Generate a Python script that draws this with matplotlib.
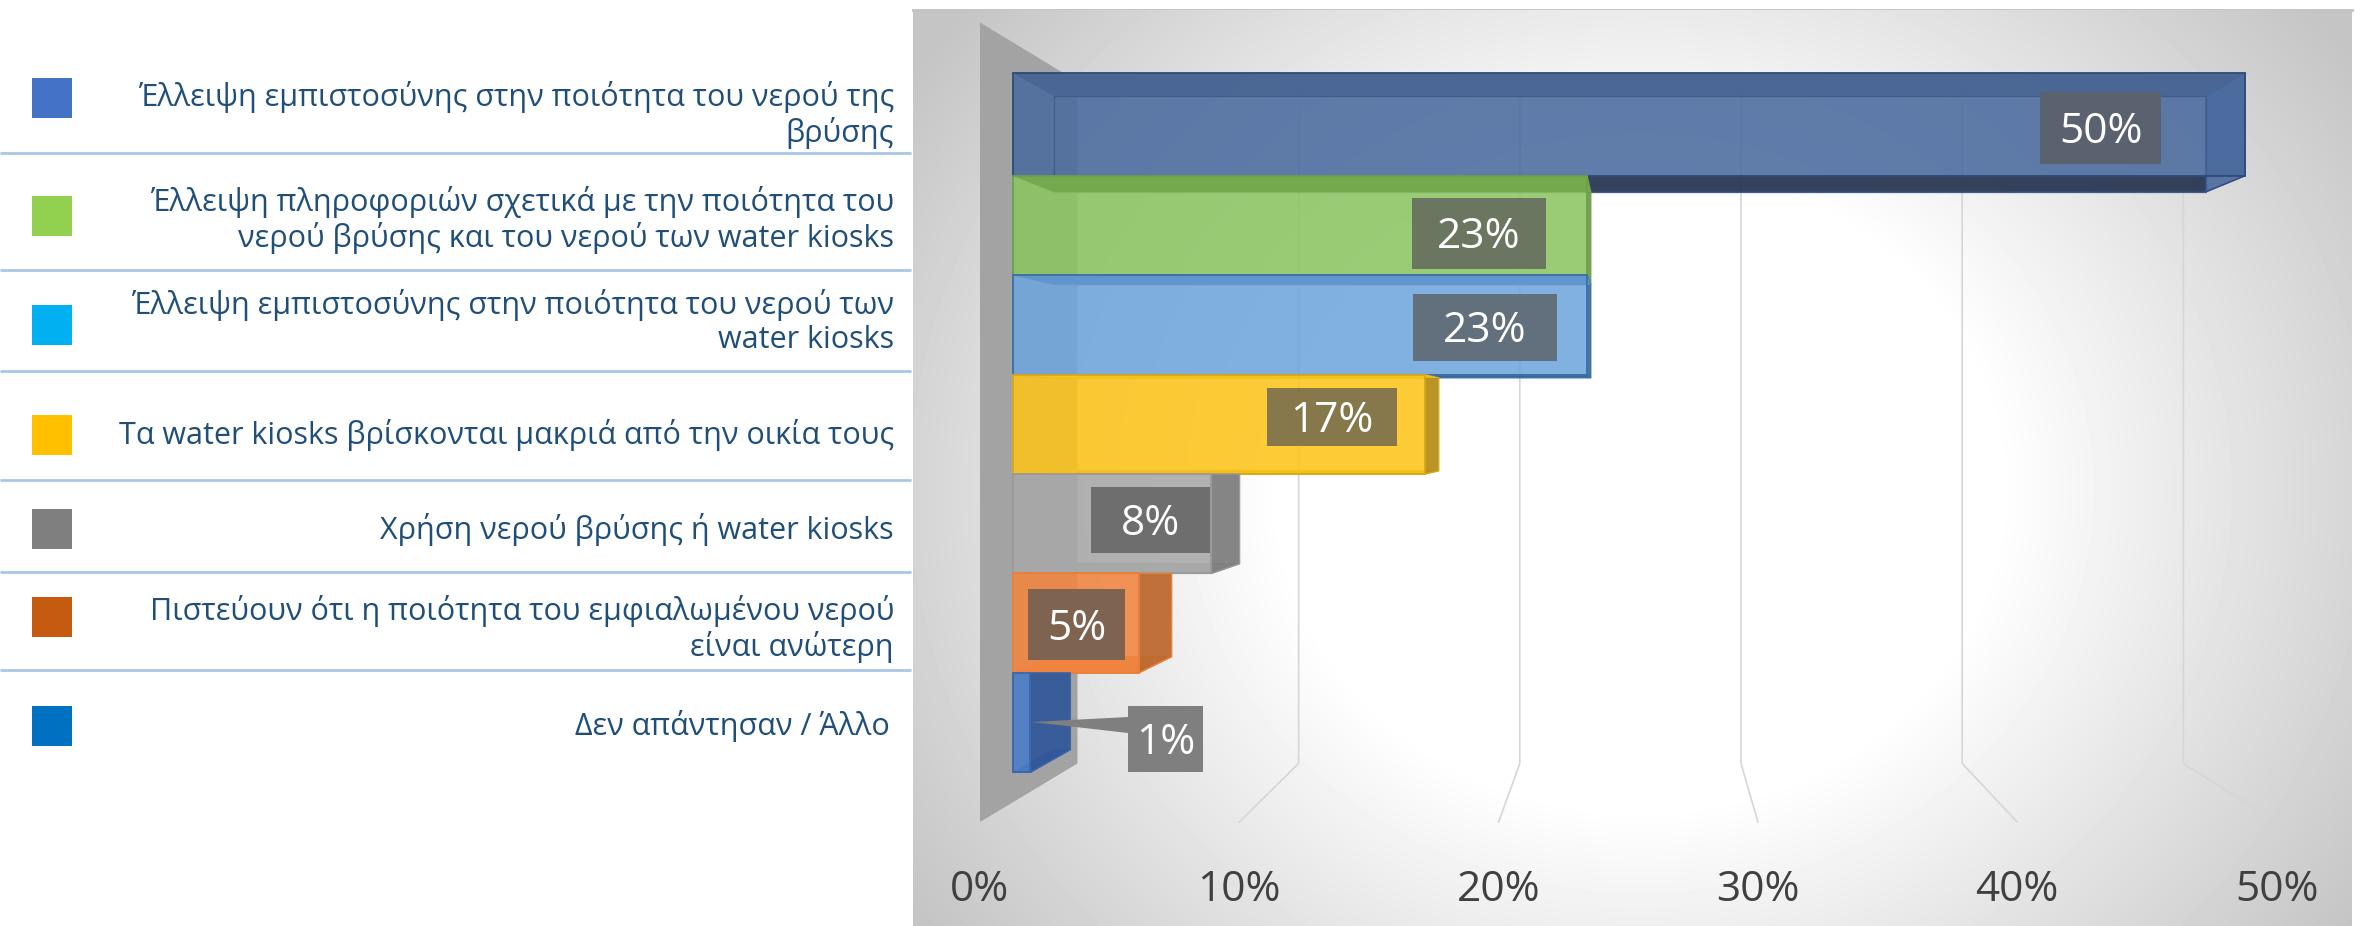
import numpy as np
import matplotlib
matplotlib.use("Agg")
import matplotlib.pyplot as plt
from matplotlib.patches import Polygon, Rectangle

# ---------- data ----------
categories = [
    "Έλλειψη εμπιστοσύνης στην ποιότητα του νερού της\nβρύσης",
    "Έλλειψη πληροφοριών σχετικά με την ποιότητα του\nνερού βρύσης και του νερού των water kiosks",
    "Έλλειψη εμπιστοσύνης στην ποιότητα του νερού των\nwater kiosks",
    "Τα water kiosks βρίσκονται μακριά από την οικία τους",
    "Χρήση νερού βρύσης ή water kiosks",
    "Πιστεύουν ότι η ποιότητα του εμφιαλωμένου νερού\nείναι ανώτερη",
    "Δεν απάντησαν / Άλλο",
]
values = [50.0, 23.3, 23.3, 16.7, 8.05, 5.1, 0.7]
ticks = [0, 10, 20, 30, 40, 50]

# ---------- styles ----------
legend_colors = ["#4472C4", "#92D050", "#00B0F0", "#FFC000", "#7F7F7F", "#C55A11", "#0070C0"]
front_colors = ["#4A6A9E", "#8CC563", "#6FA6DC", "#FCC41A", "#A8A8A8", "#F2853F", "#4A7CCB"]
top_colors = ["#4A6694", "#74A94C", "#6295D0", "#F8C31C", "#A6A6A6", "#F0864A", "#4A7CCB"]
bottom_colors = ["#2A3852", "#5E8E40", "#2F5F90", "#C89A18", "#9FA6AA", "#E07A3A", "#3A66AC"]
side_colors = ["#5C78A8", "#6E9E4C", "#3F6FA0", "#B88E1A", "#7F7F7F", "#BE6A30", "#33589A"]
edge_colors = ["#2E4A78", "#6FA04C", "#3A70A6", "#D8A818", "#9A9A9A", "#E8803C", "#3A66AC"]
label_colors = ["#5A6270", "#6A7660", "#626F7C", "#87784C", "#6E6E6E", "#7E6350", "#7F7F7F"]
# label boxes, in reference pixels: left, top, right, bottom
label_boxes = [(2040, 92, 2161, 164), (1412, 198, 1546, 269), (1413, 294, 1557, 361),
               (1267, 388, 1397, 446), (1091, 487, 1210, 553), (1028, 589, 1125, 660),
               (1128, 706, 1203, 772)]
legend_y = [115, 220, 322, 435, 529, 629, 726]
legend_x = [894, 894, 894, 894, 894, 894, 890]
swatch_y = [98, 216, 325, 435, 529, 617, 726]
rule_y = [153, 270, 371, 480, 572, 670]

W, H = 2356, 926
PX0, PX1, PY0, PY1 = 913, 2352, 10, 926
# perspective model: value 0 at depth 0 and its pixel scale, vanishing point
X_ZERO, X_UNIT = 980.0, 25.93
Y_ZERO, Y_UNIT = 58.05, 104.65
VX, VY = (1643 - X_ZERO) / X_UNIT, (424 - Y_ZERO) / Y_UNIT
D_BAR_FRONT, D_BAR_BACK, D_WALL = 0.05, 0.112, 0.147
FIRST_BAND_RAISE = 0.03

plt.rcParams["font.family"] = ["Open Sans", "DejaVu Sans"]
fig = plt.figure(figsize=(W / 100, H / 100), dpi=100, facecolor="white")

# legend side, in pixels
lax = fig.add_axes([0, 0, 1, 1], zorder=1)
lax.set_xlim(0, W); lax.set_ylim(H, 0); lax.axis("off")
for cat, col, tx, ty, sy in zip(categories, legend_colors, legend_x, legend_y, swatch_y):
    lax.add_patch(Rectangle((32, sy - 20), 40, 40, facecolor=col, edgecolor="none"))
    lax.text(tx, ty, cat, ha="right", va="center", fontsize=22, color="#1F4E79",
             linespacing=1.19)
for y in rule_y:
    lax.plot([0, 911], [y, y], color="#A9C6E6", lw=2, solid_capstyle="butt")

# chart panel: x axis in percent, y axis in category bands
ax = fig.add_axes([PX0 / W, 1 - PY1 / H, (PX1 - PX0) / W, (PY1 - PY0) / H], zorder=2)
xlim = ((PX0 - X_ZERO) / X_UNIT, (PX1 - X_ZERO) / X_UNIT)
ylim = ((PY1 - Y_ZERO) / Y_UNIT, (PY0 - Y_ZERO) / Y_UNIT)
ax.axis("off")


def P(v, c, d):
    return (v + (VX - v) * d, c + (VY - c) * d)


def from_px(x, y):
    return ((x - X_ZERO) / X_UNIT, (y - Y_ZERO) / Y_UNIT)


# radial background
yy, xx = np.mgrid[PY0:PY1:200j, PX0:PX1:300j]
r = np.hypot((xx - 1640) / 720, (yy - 490) / 640)
t = np.clip((r - 0.5) / 0.7, 0, 1)
shade = (255 - t * 58) / 255
ax.imshow(shade, extent=(xlim[0], xlim[1], ylim[0], ylim[1]), cmap="gray", vmin=0, vmax=1,
          aspect="auto", origin="upper", zorder=0, interpolation="bilinear")
ax.set_xlim(*xlim)
ax.set_ylim(*ylim)
lax.plot([PX0, PX1], [10, 10], color="#BEBEBE", lw=2)

C_TOP, C_BOT = -0.34, 7.30
# gridlines
for v in ticks[1:]:
    pts = [P(v, C_TOP, D_WALL), P(v, C_BOT, D_WALL), P(v, C_BOT, 0)]
    ax.plot(*zip(*pts), color="#D6D6D6", lw=1.2, zorder=1)
# wall
wall = [P(0, C_TOP, 0), P(0, C_TOP, D_WALL), P(0, C_BOT, D_WALL), P(0, C_BOT, 0)]
ax.add_patch(Polygon(wall, facecolor="#A3A3A3", edgecolor="none", zorder=2))
# bars
for i, v in enumerate(values):
    z = 3 + i
    a = i - (FIRST_BAND_RAISE if i == 0 else 0)
    b = i + 1
    f, k = D_BAR_FRONT, D_BAR_BACK
    front_top = P(v, a, f)[1]
    below = a > VY
    # bars under the vanishing point keep a flat top on the side face
    side_top = (P(v, a, k)[0], front_top) if below else P(v, a, k)
    ax.add_patch(Polygon([P(0, b, f), P(v, b, f), P(v, b, k), P(0, b, k)],
                         facecolor=bottom_colors[i], edgecolor=edge_colors[i], lw=1, alpha=0.95, zorder=z))
    ax.add_patch(Polygon([P(v, a, f), P(v, b, f), P(v, b, k), side_top],
                         facecolor=side_colors[i], edgecolor=edge_colors[i], lw=1, alpha=0.95, zorder=z))
    front = [P(0, a, f), P(v, a, f), P(v, b, f), P(0, b, f)]
    ax.add_patch(Polygon(front, facecolor=front_colors[i], edgecolor="none", alpha=0.88, zorder=z + 0.1))
    if not below:
        ax.add_patch(Polygon([P(0, a, f), P(v, a, f), P(v, a, k), P(0, a, k)], facecolor=top_colors[i],
                             edgecolor="none", alpha=0.95, zorder=z + 0.15))
    if i == 0:
        ax.add_patch(Polygon([P(0, a, k), P(v, a, k), P(v, b, k), P(0, b, k)], facecolor="none",
                             edgecolor="#3F5C8C", lw=0.9, zorder=z + 0.16))
    ax.add_patch(Polygon(front, facecolor="none", edgecolor=edge_colors[i], lw=1.3, zorder=z + 0.2))

# data labels
for i, (v, box, col) in enumerate(zip(values, label_boxes, label_colors)):
    x0, y0, x1, y1 = box
    (dx0, dy0), (dx1, dy1) = from_px(x0, y0), from_px(x1, y1)
    ax.add_patch(Rectangle((dx0, dy0), dx1 - dx0, dy1 - dy0, facecolor=col, edgecolor="none", zorder=20))
    ax.text((dx0 + dx1) / 2, from_px(0, (y0 + y1) / 2 + 4)[1], f"{round(v)}%", color="white",
            fontsize=30.5, ha="center", va="center", zorder=21)
# callout of the smallest bar
x0, y0, x1, y1 = label_boxes[-1]
ax.add_patch(Polygon([from_px(x0, 717), from_px(1032, 722), from_px(x0, 733)],
                     facecolor=label_colors[-1], edgecolor="none", zorder=20))

# axis tick labels
for v in ticks:
    ax.text(v, from_px(0, 890)[1], f"{v}%", color="#404040", fontsize=30.5, ha="center",
            va="center", zorder=5)

fig.savefig("out.png", dpi=100)
